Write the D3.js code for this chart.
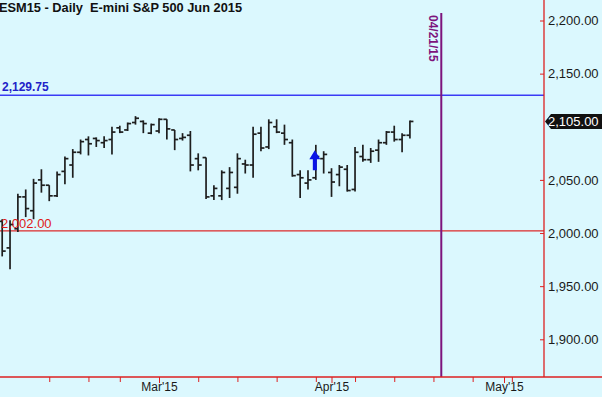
<!DOCTYPE html>
<html>
<head>
<meta charset="utf-8">
<script src="https://cdn.jsdelivr.net/npm/d3@7"></script>
<style>
  html, body { margin: 0; padding: 0; background: #dbf8fe; }
  svg { display: block; }
</style>
</head>
<body>
<div id="chart"></div>
<script>
var title = 'ESM15 - Daily  E-mini S&P 500 Jun 2015';

// trading calendar
var firstDay = '2015-01-30';
var lastDay = '2015-05-08';
var holidays = ['2015-02-16'];

// daily OHLC, one per trading day from firstDay
var opens  = [2011, 1986, 2004, 2034, 2021, 2050, 2045, 2035, 2058, 2064, 2076, 2088, 2089, 2085, 2088,
              2099, 2097, 2104, 2105, 2094, 2096, 2107, 2097, 2089, 2092, 2070, 2071, 2035, 2035, 2042,
              2043, 2065, 2064, 2094, 2081, 2100, 2094, 2085, 2055, 2047, 2052, 2070, 2057, 2055, 2060,
              2041, 2072, 2069, 2078, 2085, 2095, 2088, 2092];
var highs  = [2013, 2012, 2037, 2041, 2051, 2060, 2045, 2058, 2072, 2079, 2088, 2091, 2090, 2091, 2100,
              2101, 2104, 2110, 2106, 2103, 2108, 2107, 2097, 2094, 2096, 2075, 2071, 2045, 2059, 2062,
              2075, 2069, 2100, 2100, 2107, 2107, 2102, 2088, 2059, 2059, 2083, 2077, 2061, 2064, 2064,
              2081, 2083, 2080, 2088, 2096, 2101, 2094, 2106];
var lows   = [1978, 1966, 2001, 2015, 2013, 2038, 2030, 2034, 2046, 2052, 2074, 2073, 2081, 2080, 2074,
              2094, 2096, 2102, 2094, 2093, 2094, 2088, 2078, 2087, 2058, 2059, 2032, 2031, 2031, 2033,
              2037, 2056, 2052, 2077, 2079, 2094, 2083, 2053, 2033, 2041, 2050, 2056, 2034, 2044, 2039,
              2039, 2067, 2066, 2067, 2083, 2086, 2076, 2089];
var closes = [1983, 2008, 2034, 2023, 2047, 2045, 2035, 2055, 2070, 2076, 2086, 2084, 2087, 2087, 2095,
              2095, 2103, 2108, 2103, 2102, 2107, 2098, 2088, 2090, 2064, 2064, 2034, 2042, 2057, 2057,
              2070, 2064, 2093, 2080, 2104, 2095, 2088, 2054, 2052, 2050, 2072, 2074, 2048, 2062, 2040,
              2076, 2069, 2077, 2085, 2095, 2088, 2092, 2105];

// 2,100.00 sits under the last-price tag, so it is not listed
var yTicks = [1900, 1950, 2000, 2050, 2150, 2200];
var weekTicks = ['2015-02-09', '2015-02-17', '2015-02-23', '2015-03-09', '2015-03-16', '2015-03-23',
                 '2015-03-30', '2015-04-06', '2015-04-13', '2015-04-20', '2015-04-27', '2015-05-04'];
var monthTicks = ['2015-03-02', '2015-04-01', '2015-05-01'];
var monthLabels = ["Mar'15", "Apr'15", "May'15"];

var upperLevel = 2129.75;
var lowerLevel = 2002.00;
var markerDate = '2015-04-21';
var lastPrice = 2105.00;
var arrowDate = '2015-03-30';
var arrowFrom = 2059;
var arrowTo = 2078;

(function () {
  var W = 602, H = 397;
  var axisX = 544, axisY = 377;
  var fmtDay = d3.utcFormat('%Y-%m-%d');

  // build the trading-day index
  var days = [];
  d3.utcDays(new Date(firstDay + 'T00:00:00Z'), new Date(lastDay + 'T00:00:01Z')).forEach(function (d) {
    var wd = d.getUTCDay();
    var s = fmtDay(d);
    if (wd !== 0 && wd !== 6 && holidays.indexOf(s) < 0) { days.push(s); }
  });
  var idx = {};
  days.forEach(function (d, i) { idx[d] = i; });

  var bars = opens.map(function (o, i) {
    return { day: days[i], o: o, h: highs[i], l: lows[i], c: closes[i] };
  });

  var x = d3.scaleLinear().domain([-0.28, 69.1]).range([0, axisX]);
  var y = d3.scaleLinear().domain([1900, 2200]).range([339.3, 20.5]);

  var svg = d3.select('#chart').append('svg')
    .attr('width', W).attr('height', H)
    .style('font-family', '"Liberation Sans", Arial, sans-serif');

  svg.append('rect').attr('width', W).attr('height', H).attr('fill', '#dbf8fe');

  // level lines
  svg.append('line')
    .attr('x1', 0).attr('x2', axisX)
    .attr('y1', y(upperLevel)).attr('y2', y(upperLevel))
    .attr('stroke', '#3b3bf5').attr('stroke-width', 1.5);
  svg.append('text')
    .attr('x', 2).attr('y', y(upperLevel) - 4)
    .attr('fill', '#2222c8').style('font-size', '12px').style('font-weight', 'bold')
    .text(d3.format(',.2f')(upperLevel));

  svg.append('line')
    .attr('x1', 0).attr('x2', axisX)
    .attr('y1', y(lowerLevel)).attr('y2', y(lowerLevel))
    .attr('stroke', '#dd2a2a').attr('stroke-width', 1.2);

  // OHLC bars
  var g = svg.append('g').attr('stroke', '#1e1e1e').attr('stroke-width', 1.7);
  bars.forEach(function (b) {
    var cx = x(idx[b.day]);
    g.append('line').attr('x1', cx).attr('x2', cx).attr('y1', y(b.h)).attr('y2', y(b.l));
    g.append('line').attr('x1', cx - 3.5).attr('x2', cx).attr('y1', y(b.o)).attr('y2', y(b.o));
    g.append('line').attr('x1', cx).attr('x2', cx + 3.5).attr('y1', y(b.c)).attr('y2', y(b.c));
  });

  svg.append('text')
    .attr('x', 1).attr('y', y(lowerLevel) - 3)
    .attr('fill', '#e01818').style('font-size', '13px')
    .text(d3.format(',.2f')(lowerLevel));

  // date marker
  var mx = x(idx[markerDate]);
  svg.append('line')
    .attr('x1', mx).attr('x2', mx).attr('y1', 13).attr('y2', axisY)
    .attr('stroke', '#7d147d').attr('stroke-width', 2);
  svg.append('text')
    .attr('transform', 'translate(' + (mx - 12.5) + ',15) rotate(90)')
    .attr('fill', '#7d147d').style('font-size', '12px').style('font-weight', 'bold')
    .text(d3.utcFormat('%m/%d/%y')(new Date(markerDate + 'T00:00:00Z')));

  // up arrow
  var ax = x(idx[arrowDate]) - 1;
  var yTip = y(arrowTo), yTail = y(arrowFrom), yHead = yTip + 9;
  svg.append('path')
    .attr('d', 'M' + ax + ',' + yTip + 'L' + (ax + 5.5) + ',' + yHead + 'L' + (ax + 2) + ',' + yHead +
      'L' + (ax + 2) + ',' + yTail + 'L' + (ax - 2) + ',' + yTail + 'L' + (ax - 2) + ',' + yHead +
      'L' + (ax - 5.5) + ',' + yHead + 'Z')
    .attr('fill', '#0a14e6');

  // right price axis
  svg.append('g')
    .attr('transform', 'translate(' + axisX + ',0)')
    .call(d3.axisRight(y).tickValues(yTicks).tickSizeInner(-4).tickSizeOuter(0).tickPadding(4)
      .tickFormat(d3.format(',.2f')))
    .call(function (a) {
      a.select('.domain').remove();
      a.selectAll('.tick line').attr('stroke', '#dd2020');
      a.selectAll('text').attr('fill', '#1a1a1a').style('font-size', '13px')
        .style('font-family', '"Liberation Sans", Arial, sans-serif');
    });
  svg.append('line')
    .attr('x1', axisX).attr('x2', axisX).attr('y1', 0).attr('y2', axisY)
    .attr('stroke', '#dd2020').attr('stroke-width', 1.3);

  // bottom time axis
  svg.append('g')
    .attr('transform', 'translate(0,' + axisY + ')')
    .call(d3.axisBottom(x).tickValues(weekTicks.map(function (d) { return idx[d]; }))
      .tickSizeInner(5).tickSizeOuter(0).tickFormat(''))
    .call(function (a) {
      a.select('.domain').remove();
      a.selectAll('.tick line').attr('stroke', '#dd2020');
    });
  svg.append('g')
    .attr('transform', 'translate(0,' + axisY + ')')
    .call(d3.axisBottom(x).tickValues(monthTicks.map(function (d) { return idx[d]; }))
      .tickSizeInner(6).tickSizeOuter(0).tickPadding(0)
      .tickFormat(function (v, i) { return monthLabels[i]; }))
    .call(function (a) {
      a.select('.domain').remove();
      a.selectAll('.tick line').attr('stroke', '#dd2020');
      a.selectAll('text').attr('y', 5.5).attr('fill', '#1a1a1a').style('font-size', '12px')
        .style('font-family', '"Liberation Sans", Arial, sans-serif');
    });
  svg.append('line')
    .attr('x1', 0).attr('x2', W).attr('y1', axisY).attr('y2', axisY)
    .attr('stroke', '#dd2020').attr('stroke-width', 1.3);

  // last price tag
  var py = y(lastPrice);
  svg.append('path')
    .attr('d', 'M' + (axisX + 1) + ',' + py + 'L' + (axisX + 7) + ',' + (py - 7.5) + 'L' + W + ',' + (py - 7.5) +
      'L' + W + ',' + (py + 7.5) + 'L' + (axisX + 7) + ',' + (py + 7.5) + 'Z')
    .attr('fill', '#111');
  svg.append('text')
    .attr('x', axisX + 4).attr('y', py + 5)
    .attr('fill', '#fff').style('font-size', '13px')
    .text(d3.format(',.2f')(lastPrice));

  // title
  svg.append('text')
    .attr('x', -1).attr('y', 12)
    .attr('fill', '#111').style('font-size', '12.8px').style('font-weight', 'bold')
    .style('white-space', 'pre')
    .text(title);
})();
</script>
</body>
</html>
